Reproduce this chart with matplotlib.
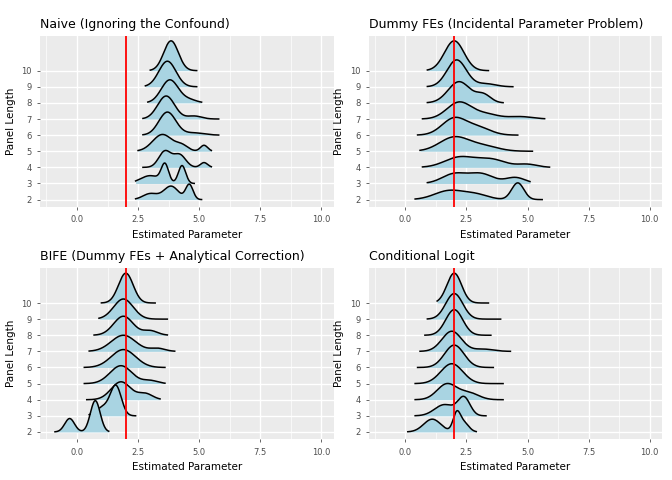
import numpy as np
import matplotlib
matplotlib.use("Agg")
import matplotlib.pyplot as plt

plt.rcParams['font.family'] = ['DejaVu Sans']

TRUE_VALUE = 2.0
panel_lengths = [2, 3, 4, 5, 6, 7, 8, 9, 10]
titles = ["Naive (Ignoring the Confound)",
          "Dummy FEs (Incidental Parameter Problem)",
          "BIFE (Dummy FEs + Analytical Correction)",
          "Conditional Logit"]

# per panel length: (min, max) of estimates and density bumps (center, sd, weight)
naive_ranges = [(2.4, 5.1), (2.4, 4.8), (2.7, 5.5), (2.5, 5.5), (2.7, 5.8), (2.7, 5.8), (2.9, 5.1), (2.8, 4.9), (3.0, 4.9)]
naive_bumps = [
    [(3.0, 0.3, 0.2), (3.85, 0.3, 0.45), (4.6, 0.15, 0.25)],
    [(3.0, 0.4, 0.35), (3.6, 0.15, 0.3), (4.3, 0.15, 0.3)],
    [(3.6, 0.25, 0.45), (4.2, 0.25, 0.35), (5.2, 0.15, 0.08)],
    [(3.5, 0.4, 0.75), (4.3, 0.25, 0.15), (5.2, 0.15, 0.1)],
    [(3.7, 0.35, 0.9), (4.8, 0.4, 0.1)],
    [(3.65, 0.35, 0.9), (4.8, 0.3, 0.1)],
    [(3.8, 0.35, 0.9), (4.6, 0.3, 0.1)],
    [(3.7, 0.35, 1.0)],
    [(3.85, 0.3, 1.0)],
]
dummy_ranges = [(0.4, 5.6), (0.9, 5.1), (0.7, 5.9), (0.6, 5.2), (0.5, 4.6), (0.7, 5.7), (0.9, 4.0), (0.9, 4.4), (0.9, 3.4)]
dummy_bumps = [
    [(1.8, 0.6, 0.45), (2.9, 0.5, 0.2), (4.6, 0.25, 0.35)],
    [(2.0, 0.5, 0.4), (3.1, 0.5, 0.4), (4.5, 0.4, 0.2)],
    [(2.2, 0.6, 0.5), (3.5, 0.6, 0.4), (5.0, 0.4, 0.1)],
    [(2.0, 0.6, 0.7), (3.2, 0.6, 0.25)],
    [(2.0, 0.5, 0.7), (3.0, 0.5, 0.3)],
    [(2.2, 0.5, 0.7), (3.3, 0.5, 0.2), (4.7, 0.5, 0.1)],
    [(2.2, 0.45, 0.8), (3.2, 0.3, 0.2)],
    [(2.1, 0.4, 0.9), (3.3, 0.4, 0.1)],
    [(2.0, 0.4, 1.0)],
]
bife_ranges = [(-0.9, 1.3), (0.5, 2.4), (0.4, 3.4), (0.3, 3.6), (0.3, 3.6), (0.5, 4.0), (0.7, 3.7), (0.9, 3.7), (1.0, 3.2)]
bife_bumps = [
    [(-0.3, 0.2, 0.3), (0.75, 0.2, 0.7)],
    [(1.1, 0.3, 0.3), (1.6, 0.22, 0.7)],
    [(1.8, 0.4, 0.8), (2.8, 0.3, 0.2)],
    [(1.8, 0.45, 0.9), (3.0, 0.3, 0.1)],
    [(1.9, 0.5, 1.0)],
    [(1.9, 0.5, 0.9), (3.3, 0.3, 0.1)],
    [(1.9, 0.4, 0.85), (3.0, 0.3, 0.15)],
    [(1.9, 0.4, 0.9)],
    [(2.0, 0.3, 1.0)],
]
clogit_ranges = [(0.1, 2.9), (0.4, 3.3), (0.4, 4.0), (0.4, 4.0), (0.5, 3.6), (0.6, 4.3), (0.8, 3.5), (0.9, 3.9), (1.3, 3.4)]
clogit_bumps = [
    [(1.1, 0.35, 0.5), (2.1, 0.15, 0.3), (2.4, 0.2, 0.2)],
    [(1.6, 0.4, 0.5), (2.4, 0.25, 0.5)],
    [(1.7, 0.4, 0.7), (2.6, 0.4, 0.3)],
    [(1.9, 0.45, 1.0)],
    [(2.0, 0.4, 1.0)],
    [(1.9, 0.4, 0.9), (3.2, 0.4, 0.1)],
    [(2.0, 0.35, 1.0)],
    [(2.0, 0.35, 1.0)],
    [(2.0, 0.3, 1.0)],
]
panels = [(naive_ranges, naive_bumps), (dummy_ranges, dummy_bumps),
          (bife_ranges, bife_bumps), (clogit_ranges, clogit_bumps)]


def density(x, bumps):
    y = np.zeros_like(x)
    for c, s, w in bumps:
        y += w * np.exp(-0.5 * ((x - c) / s) ** 2) / (s * np.sqrt(2 * np.pi))
    return y


fig, axes = plt.subplots(2, 2, figsize=(6.72, 4.8), dpi=100)
fig.subplots_adjust(left=0.06, right=0.985, top=0.925, bottom=0.085, wspace=0.12, hspace=0.36)

for ax, title, (ranges, bumps) in zip(axes.flat, titles, panels):
    ax.set_facecolor('#EBEBEB')
    curves = []
    for (lo, hi), b in zip(ranges, bumps):
        x = np.linspace(lo, hi, 200)
        curves.append((x, density(x, b)))
    scale = 1.85 / curves[-1][1].max()
    for i, (x, d) in enumerate(curves):
        base = i + 1
        z = 20 - i
        ax.fill_between(x, base, base + d * scale, color='#A9D4E2', lw=0, zorder=z)
        ax.plot(x, base + d * scale, color='black', lw=1.1, zorder=z)
    ax.axvline(TRUE_VALUE, color='red', lw=1.3, zorder=30)
    ax.set_xlim(-1.5, 10.5)
    ax.set_ylim(0.55, 11.15)
    ax.set_xticks([0, 2.5, 5, 7.5, 10])
    ax.set_xticklabels(['0.0', '2.5', '5.0', '7.5', '10.0'])
    ax.set_xticks([-1.25, 1.25, 3.75, 6.25, 8.75], minor=True)
    ax.set_yticks(range(1, len(panel_lengths) + 1))
    ax.set_yticklabels([str(p) for p in panel_lengths])
    ax.grid(True, which='major', color='white', lw=1.0, zorder=0)
    ax.grid(True, which='minor', axis='x', color='white', lw=0.5, zorder=0)
    ax.set_axisbelow(True)
    for s in ax.spines.values():
        s.set_visible(False)
    ax.tick_params(axis='both', which='major', labelsize=6, colors='#4D4D4D', length=2.5, width=0.6)
    ax.tick_params(axis='both', which='minor', length=0)
    ax.set_xlabel('Estimated Parameter', fontsize=7.5)
    ax.set_ylabel('Panel Length', fontsize=7.5)
    ax.set_title(title, loc='left', fontsize=9)

fig.savefig('out.png')
